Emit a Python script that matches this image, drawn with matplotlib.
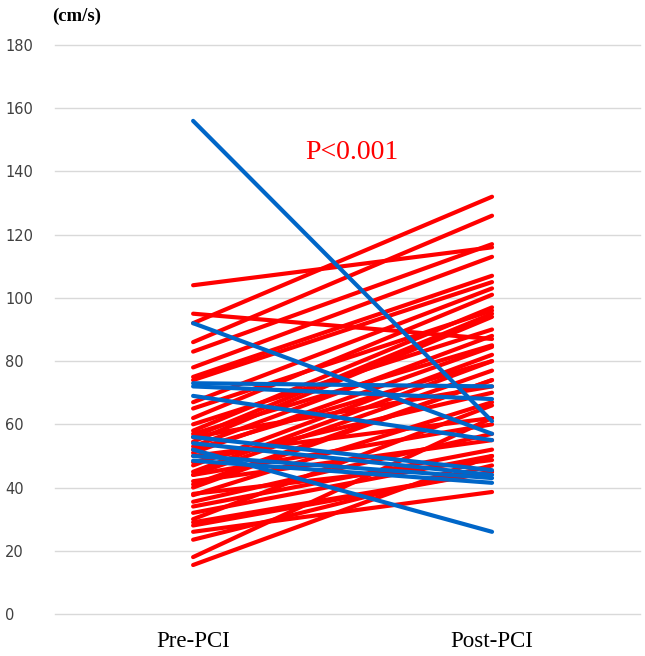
import matplotlib.pyplot as plt

categorias = ["Pre-PCI", "Post-PCI"]

# red lines (increase) : pre, post
rojo_pre = [104, 95, 92, 86, 83, 78, 75, 74, 67, 62, 58, 56, 54.5, 53, 51, 47, 45,
            44, 40, 37.6, 35.5, 32, 29, 26, 23.5, 18, 15.5,
            56, 50, 42, 38, 28, 34, 57, 48, 60, 65, 44, 30, 52, 41]
rojo_post = [116, 87, 132, 126, 117, 113, 107, 105, 103, 101, 97, 95, 94, 88, 84.5, 82, 80,
             77, 74, 67, 57, 50, 45, 38.6, 47, 62, 50,
             72, 62, 55, 48.7, 45, 52, 85, 70, 90, 96, 60, 66, 80, 74]

# blue lines (decrease)
azul_pre = [156, 92, 73, 72, 69, 56, 54, 50, 48.5, 52]
azul_post = [61, 57, 72, 68, 55, 45.5, 44, 43, 41.5, 26]

fig = plt.figure(figsize=(6.45, 6.56), dpi=100)
ax = fig.add_axes([55/645, 42/656, 585/645, 569/656])

for a, b in zip(rojo_pre, rojo_post):
    ax.plot([0, 1], [a, b], color="#ff0000", lw=3, solid_capstyle="round", zorder=3)
for a, b in zip(azul_pre, azul_post):
    ax.plot([0, 1], [a, b], color="#0066c8", lw=3, solid_capstyle="round", zorder=4)

ax.set_xlim(-0.462, 1.495)
ax.set_ylim(0, 180)
ax.set_yticks(range(0, 181, 20))
ax.set_xticks([0, 1])
ax.set_xticklabels(categorias, fontsize=16.5, family="Liberation Serif")
ax.tick_params(axis="both", length=0)
ax.tick_params(axis="x", pad=12)
ax.tick_params(axis="y", pad=36, labelsize=10.5, labelcolor="#404040")
for lbl in ax.get_yticklabels():
    lbl.set_horizontalalignment("left")
ax.grid(True, axis="y", color="#d9d9d9", lw=1, zorder=0)
for gl in ax.get_ygridlines():
    gl.set_clip_on(False)
for s in ax.spines.values():
    s.set_visible(False)

ax.text(0.53, 146, "P<0.001", color="#ff0000", fontsize=20, family="Liberation Serif",
        ha="center", va="center")
fig.text(52/645, 1 - 16/656, "(cm/s)", fontsize=13.5, family="Liberation Serif",
         fontweight="bold", ha="left", va="center")

plt.savefig("out.png")
